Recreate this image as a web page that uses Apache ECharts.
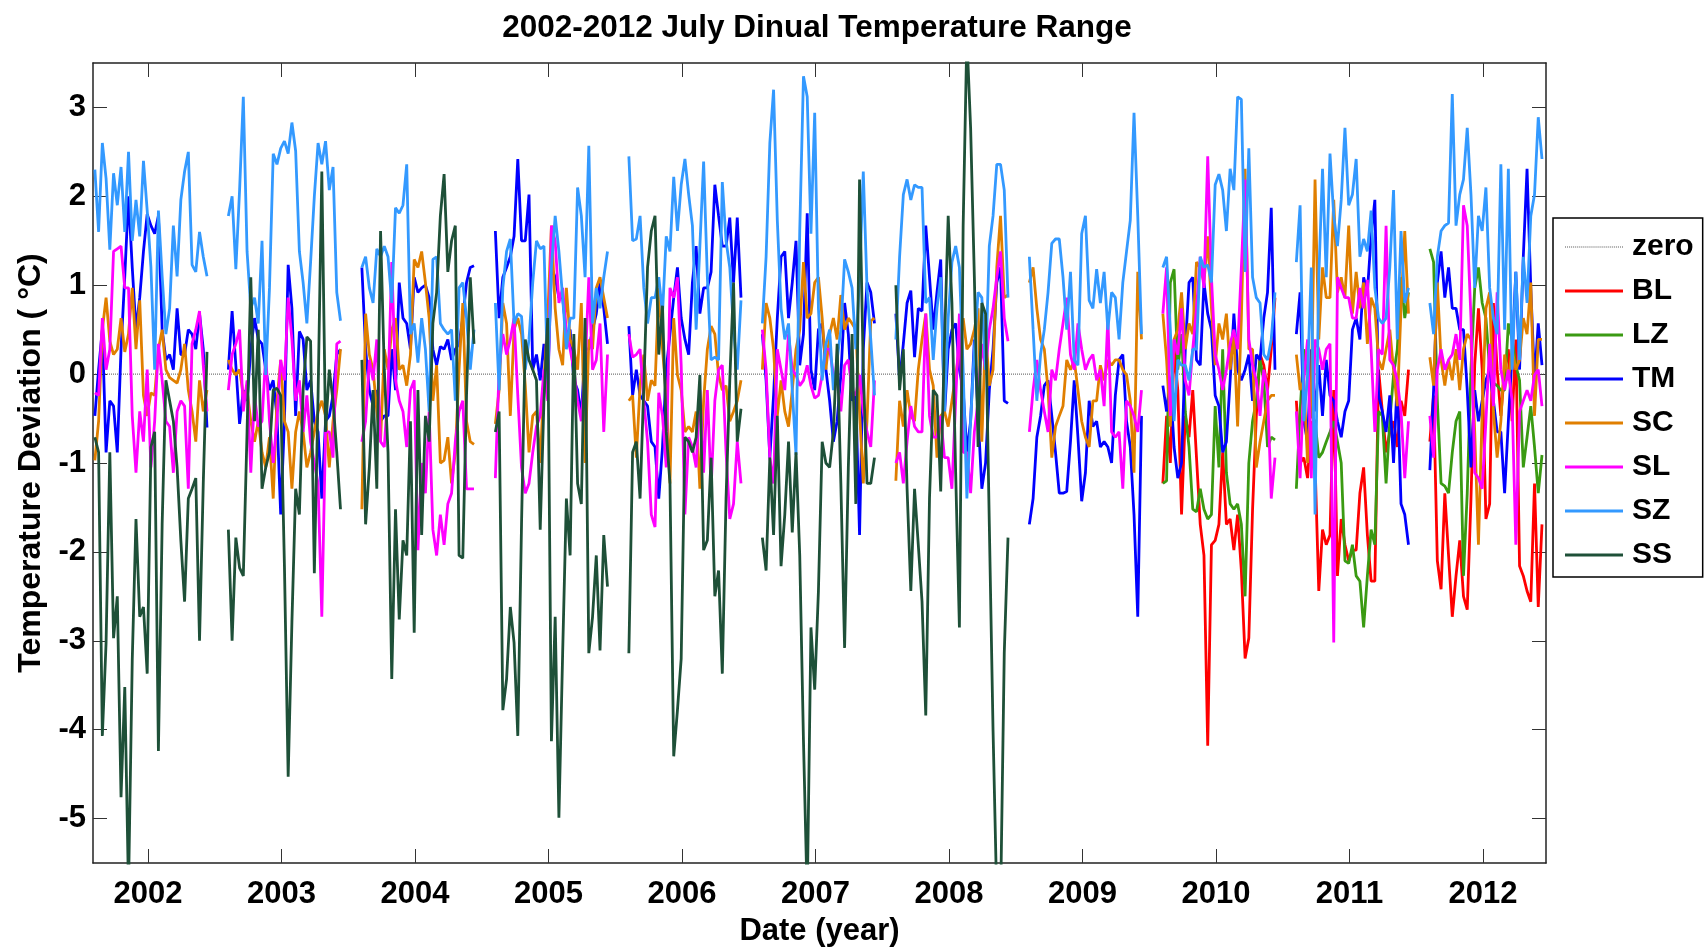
<!DOCTYPE html>
<html>
<head>
<meta charset="utf-8">
<title>2002-2012 July Dinual Temperature Range</title>
<script src="https://cdn.jsdelivr.net/npm/echarts@6/dist/echarts.min.js"></script>
<style>
  html, body { margin: 0; padding: 0; background: #fff; }
  #container { width: 1706px; height: 952px; }
</style>
</head>
<body>
<div id="container"></div>
<script>
const years = [2002, 2003, 2004, 2005, 2006, 2007, 2008, 2009, 2010, 2011, 2012];
const yTicks = [-5, -4, -3, -2, -1, 0, 1, 2, 3];
const lateYears = [2010, 2011, 2012];
const ssYears = [2002, 2003, 2004, 2005, 2006, 2007, 2008];

// July, 31 days per year, plotted inside each year slot
const JULY_START = -0.398;
const DAY_STEP = 0.028;

// SZ, one row per year 2002..2012
const SZ = [
  [2.3,1.6,2.6,2.2,1.4,2.26,1.9,2.33,1.6,2.5,1.5,1.96,1.55,2.4,1.84,1.2,0.05,1.84,1.1,0.45,0.74,1.67,1.1,1.96,2.28,2.5,1.23,1.15,1.6,1.32,1.1],
  [1.78,2.0,1.18,2.07,3.12,1.38,0.74,0.86,0.57,1.5,-0.01,0.97,2.48,2.36,2.54,2.62,2.48,2.83,2.51,1.38,1.03,0.57,1.26,2.0,2.6,2.36,2.62,2.07,2.33,0.92,0.6],
  [1.2,1.32,0.97,0.8,1.41,1.32,1.44,1.32,0.8,1.87,1.81,1.9,2.36,0.45,0.57,0.13,0.63,0.28,-0.42,1.29,1.32,0.57,0.5,0.45,0.5,-0.3,0.97,1.03,0.63,0.05,0.5],
  [0.8,-0.18,0.97,1.38,1.52,0.57,0.68,0.65,0.05,0.39,1.03,1.5,1.41,1.44,-0.07,1.2,1.78,1.38,0.86,0.28,0.63,0.63,2.1,1.78,1.09,2.57,0.57,0.97,0.74,1.09,1.38],
  [2.45,1.5,1.52,1.78,0.97,0.57,0.86,0.86,1.09,0.68,1.55,1.38,2.22,1.61,2.13,2.42,2.02,1.67,0.5,1.44,2.39,1.09,0.16,0.19,0.16,2.16,1.5,1.2,0.5,0.05,0.83],
  [0.57,1.32,2.6,3.2,1.73,0.74,0.39,0.57,-0.18,-0.91,1.61,3.35,3.12,1.58,2.94,0.74,-0.07,0.34,0.5,-0.18,0.16,0.5,1.29,1.15,0.97,0.28,1.09,2.28,0.97,0.39,-0.24],
  [0.39,1.32,2.02,2.19,1.96,2.13,2.1,2.1,0.8,0.86,0.16,0.74,1.09,-0.42,0.63,1.26,1.44,1.2,0.05,-1.4,-0.53,0.28,0.92,0.86,0.05,1.44,1.78,2.36,2.36,2.07,0.86],
  [1.32,0.5,-0.3,0.22,0.5,0.92,1.47,1.52,1.52,1.09,0.5,1.15,0.16,0.1,1.58,1.78,0.83,0.74,1.18,0.8,1.15,0.5,0.92,0.86,0.39,1.03,1.38,1.73,2.94,1.78,0.45],
  [1.2,1.32,0.5,-0.53,0.16,0.1,0.1,-0.07,0.28,0.28,1.32,1.2,1.23,1.03,2.13,2.25,2.07,1.61,2.31,2.07,3.12,3.09,1.15,2.54,1.09,0.86,0.8,0.22,0.16,0.39,0.92],
  [1.26,1.9,-0.53,-0.01,1.2,-1.58,1.09,2.31,1.09,2.48,1.78,1.44,1.96,2.77,1.9,2.02,2.42,1.32,1.52,1.38,1.84,0.97,0.63,0.57,0.63,1.2,2.07,0.39,1.61,0.8,0.97],
  [0.8,0.45,1.32,1.61,1.67,1.7,3.15,1.67,2.02,2.19,2.77,2.02,0.97,1.78,1.61,2.1,0.97,0.63,0.45,2.36,0.5,2.31,0.05,1.15,0.16,1.32,0.8,1.78,2.02,2.89,2.42],
];

const TM = [
  [-0.47,0.05,0.5,-0.88,-0.3,-0.36,-0.88,0.28,1.1,2.0,1.2,0.5,0.86,1.38,1.8,1.67,1.58,1.78,0.5,0.16,0.22,0.05,0.74,0.22,0.22,0.5,0.45,0.28,0.68,0.28,-0.6],
  [0.05,0.71,0.1,-0.56,-0.18,-0.3,0.28,0.63,0.39,0.34,0.05,-0.18,-0.07,-0.47,-1.58,-0.53,1.23,0.74,-0.47,0.48,0.39,-0.18,-0.07,-0.53,-0.65,-1.4,-0.53,-0.47,-0.24,0.22,0.28],
  [1.2,0.28,-0.18,-0.36,-0.18,-0.53,-0.47,-0.47,0.28,-0.18,1.03,0.63,0.57,0.28,1.09,0.92,0.97,1.0,0.86,0.28,0.1,0.31,0.28,0.39,0.16,0.28,0.34,0.63,1.03,1.2,1.22],
  [1.61,0.63,1.09,1.2,1.32,1.55,2.42,1.5,1.5,2.02,0.05,0.22,-0.07,0.34,-0.18,1.2,1.09,0.86,0.86,0.45,0.5,-0.07,-0.18,-0.47,0.28,0.28,0.5,0.68,1.03,0.74,0.34],
  [0.54,-0.24,0.05,-0.24,-0.3,-0.36,-0.76,-0.82,-1.4,-0.82,0.05,0.45,0.86,1.2,0.63,0.39,0.22,1.03,1.44,0.68,0.97,0.97,1.15,2.13,1.78,1.44,1.44,1.76,1.03,1.76,0.86],
  [0.45,-0.07,-0.94,-0.24,0.63,1.32,1.38,0.63,1.03,1.5,0.1,0.45,1.81,0.05,-0.18,0.5,0.57,0.05,-0.3,-0.76,-0.53,-0.01,0.8,0.45,-0.3,-0.24,-1.81,0.28,1.03,0.92,0.57],
  [0.68,-0.07,0.34,0.8,0.94,0.19,0.74,0.71,1.67,1.09,0.5,0.92,1.29,-0.47,0.28,0.5,0.57,0.05,-0.18,-0.88,-0.53,0.39,-0.47,-1.29,-1.0,-0.18,0.28,1.03,1.2,-0.3,-0.33],
  [-1.69,-1.4,-0.71,-0.47,-0.13,-0.07,-0.47,-0.88,-1.34,-1.34,-1.32,-0.76,-0.07,-0.71,-1.43,-1.11,-0.3,-0.59,-0.53,-0.82,-0.76,-0.82,-1.0,-0.24,0.16,0.22,-0.53,-0.82,-1.58,-2.73,-0.47],
  [-0.13,-0.42,-0.07,-0.82,-1.17,-1.0,0.28,1.03,1.09,0.16,0.1,1.03,0.68,0.5,-0.24,-0.36,-0.88,-0.76,-0.07,0.68,0.05,-0.07,0.05,0.22,-0.3,0.22,0.16,0.63,0.92,1.87,0.05],
  [0.45,0.92,-0.53,-0.76,0.28,-0.42,0.1,-0.47,0.16,-0.24,-0.3,-0.53,-0.71,-0.42,-0.3,0.5,0.63,0.39,1.09,0.92,1.55,1.96,-0.24,-0.42,-0.65,-0.24,-1.0,-0.07,-1.46,-1.58,-1.92],
  [-1.08,-0.18,1.03,1.38,0.86,1.2,0.74,0.74,0.5,0.5,-0.18,-1.05,-0.18,-0.53,-0.3,-0.07,0.05,-0.3,-0.65,-0.65,-1.34,-0.53,0.22,1.15,0.05,1.32,2.31,0.97,-0.07,0.57,0.1],
];

const SC = [
  [-0.97,-0.53,0.5,0.86,0.37,0.22,0.28,0.63,0.25,0.45,0.97,0.28,0.83,-0.24,-0.47,-0.21,-0.24,0.28,0.5,0.05,-0.04,-0.07,-0.1,0.05,0.34,-0.18,-0.42,-0.76,-0.07,-0.42,-0.18],
  [0.16,0.05,-0.01,0.05,-0.24,-0.18,-0.53,-0.76,-0.53,-0.88,-1.05,-0.71,-1.4,-0.3,0.16,-0.53,-0.65,-1.29,-0.65,-0.42,-0.65,-1.05,-0.88,-0.65,-0.42,-0.3,-0.47,-1.05,-0.53,-0.18,0.28],
  [-1.52,0.68,0.22,0.05,-0.42,-0.76,0.28,0.05,0.5,0.63,0.05,0.1,-0.13,0.22,1.29,1.2,1.38,1.03,0.63,-0.3,0.1,-1.0,-0.97,-0.71,-1.23,-0.88,0.05,0.8,-0.53,-0.76,-0.79],
  [-0.56,-0.18,0.8,0.57,-0.47,0.5,0.63,0.45,-0.13,-0.88,-0.47,-0.42,-1.0,-0.07,0.63,1.67,0.74,0.28,0.1,0.97,0.39,0.28,0.05,0.8,-1.0,0.39,0.28,0.97,1.09,0.86,0.63],
  [-0.3,-0.24,-0.94,-0.13,0.22,-0.3,-0.07,-0.13,0.97,0.28,-0.24,-1.23,0.63,-0.01,-0.18,-0.65,-0.59,-0.65,-0.42,-1.29,-0.3,0.28,0.54,0.45,-0.01,-0.18,-0.13,-0.53,-0.42,-0.3,-0.07],
  [0.05,0.8,0.63,0.28,-0.47,-0.07,-0.42,-0.59,-0.18,0.28,0.5,1.26,0.63,0.68,1.03,1.09,0.63,0.05,0.45,0.63,0.39,0.89,0.5,0.63,0.57,0.5,-0.42,-1.23,-0.53,0.6,0.63],
  [-1.2,-0.3,-0.59,-0.18,-0.47,-0.53,0.05,0.39,0.68,0.05,-0.13,-0.94,-0.47,-0.42,-0.59,-0.3,-0.01,0.28,0.63,0.28,0.34,0.5,0.74,-0.76,0.5,-0.13,0.05,1.2,1.78,0.86,0.89],
  [1.03,1.2,0.74,0.39,0.28,-0.18,-0.94,-0.59,-0.47,-0.36,0.16,0.05,0.16,-0.18,-0.53,-0.71,-0.82,-0.3,-0.3,0.1,-0.07,0.16,0.1,0.16,0.16,0.05,-0.01,-0.3,-1.11,1.15,0.39],
  [0.68,0.16,-0.59,0.39,0.5,0.92,0.28,0.57,0.45,1.26,1.2,1.03,1.55,0.74,0.1,0.57,0.39,0.68,0.05,0.45,-0.59,0.63,2.31,0.28,0.28,-1.05,-0.76,-0.53,-0.3,-0.24,-0.24],
  [0.22,-0.18,-0.07,-1.0,-0.18,2.19,0.39,1.2,0.86,0.86,1.96,0.92,1.09,0.86,1.67,0.68,1.15,0.74,1.03,0.34,0.86,0.74,0.16,0.05,0.28,0.5,0.05,-0.36,0.74,1.61,0.68],
  [0.19,-0.13,1.03,0.16,-0.13,0.16,-0.07,0.28,-0.18,0.28,0.45,0.39,-0.65,-1.92,-0.42,0.74,0.92,-0.42,-0.94,-0.53,0.22,-0.07,0.28,0.05,0.16,0.63,0.45,1.03,-0.47,0.39,0.39],
];

const SL = [
  [-0.21,-0.24,0.63,0.05,0.28,1.38,1.41,1.44,0.97,0.97,-0.47,-1.11,-0.42,-0.76,0.05,-1.05,-0.53,0.34,-0.07,-0.53,-0.59,-1.11,-0.42,-0.3,-0.36,-1.29,0.34,0.5,0.71,0.1,-0.42],
  [-0.18,0.22,0.34,0.5,-0.42,-0.07,-1.11,-0.24,-0.59,-0.53,0.22,-0.53,-1.0,-0.53,0.16,-0.07,0.86,0.39,-0.3,-0.07,-0.65,-0.24,-0.76,-1.0,-1.23,-2.73,-0.65,-0.65,-0.94,0.34,0.37],
  [-0.76,-0.53,0.16,-0.07,0.39,-0.76,-0.82,-0.18,1.26,-0.07,-0.3,-0.42,-0.82,-0.18,-0.07,-1.98,-1.0,-1.34,-0.42,-1.75,-2.04,-1.58,-1.92,-1.46,-1.34,-0.76,-0.42,-0.3,-1.29,-1.29,-1.29],
  [-1.17,0.05,0.45,0.22,0.39,0.63,-0.24,-1.05,-1.34,-1.23,-0.88,-0.59,-0.47,0.05,-0.3,1.67,1.5,0.8,0.97,0.45,0.28,0.05,-0.3,-0.53,0.05,1.09,0.05,0.16,0.57,-0.65,0.22],
  [0.45,0.19,0.22,0.28,-0.3,-0.76,-1.58,-1.72,-0.21,-0.47,-1.05,0.97,0.86,1.09,0.1,-1.58,-0.71,-0.82,-1.05,-0.18,-1.11,-0.18,-1.29,-0.3,0.05,0.1,-0.88,-1.63,-1.46,-0.76,-1.23],
  [0.5,0.05,-0.94,-1.23,0.28,0.05,-0.18,0.45,0.05,-0.01,-0.13,-0.07,0.1,-0.13,-0.27,-0.24,-0.01,0.28,0.28,-0.01,-0.07,-0.42,0.1,0.16,-0.18,-0.24,-0.01,-0.42,-0.65,-0.82,-0.07],
  [-1.0,-0.88,-1.23,-0.76,-0.36,-0.59,-0.65,-0.65,0.68,-0.47,-0.71,-0.71,-0.47,-0.94,-0.94,-1.29,-0.3,0.68,-0.88,-0.88,-1.34,-0.65,-0.3,0.34,0.05,0.5,0.74,1.09,1.38,0.63,0.37],
  [-0.65,-0.18,0.16,-0.18,-0.42,-0.65,0.05,-0.07,0.28,0.57,0.86,0.22,0.05,0.57,0.28,0.05,0.16,0.22,-0.07,0.05,-0.36,0.63,-0.65,-0.71,-0.65,-1.29,-0.3,-0.36,-0.47,-0.65,-0.18],
  [0.68,1.2,-0.47,0.39,0.22,0.74,-0.07,-0.24,0.28,0.74,1.32,0.97,2.45,1.09,0.22,0.05,-0.18,0.05,0.34,0.5,0.28,1.2,2.19,0.39,0.1,-0.07,-0.47,0.05,-0.18,-1.4,-0.94],
  [-0.42,-1.17,-0.07,0.39,-1.17,0.39,0.28,0.05,0.28,0.34,-3.02,1.09,0.97,0.86,0.86,0.63,0.63,0.97,0.74,1.06,0.28,-0.65,0.28,0.22,1.67,0.16,0.1,-0.07,-0.42,-1.17,-0.53],
  [-0.47,-0.94,0.05,0.28,0.05,0.16,0.22,0.45,0.16,1.9,1.67,0.63,-1.11,-1.17,-1.29,-0.53,0.34,-0.36,0.92,0.05,-0.18,0.05,-0.3,-1.92,-0.42,-0.3,-0.18,-0.3,-0.01,0.05,-0.36],
];

// SS only 2002..2008
const SS = [
  [-0.71,-0.88,-4.07,-3.02,-0.88,-2.97,-2.5,-4.76,-3.52,-5.8,-3.22,-1.63,-2.73,-2.62,-3.37,-0.82,-0.65,-4.24,-1.69,-0.07,-0.3,-0.53,-1.05,-1.87,-2.56,-1.4,-1.29,-1.17,-3.0,-1.23,0.25],
  [-1.75,-3.0,-1.84,-2.18,-2.27,-0.65,1.09,-0.53,0.5,-1.29,-1.05,-0.88,-0.18,-0.16,-0.24,-2.16,-4.53,-2.79,-1.29,-1.58,-0.18,0.42,0.37,-2.24,-0.24,2.28,-0.65,0.05,-0.3,-0.88,-1.52],
  [0.16,-1.69,-1.05,-0.18,-1.29,1.61,0.05,-0.88,-3.43,-1.52,-2.76,-1.87,-2.04,-0.53,-2.91,-0.18,-1.81,-0.47,-0.76,0.57,0.92,1.78,2.25,1.15,1.5,1.67,-2.04,-2.07,-0.24,1.09,0.34],
  [-0.65,-0.42,-3.78,-3.43,-2.62,-3.02,-4.07,-1.69,0.39,0.16,0.05,-0.07,-1.75,-0.3,0.63,-4.13,-2.73,-4.99,-3.14,-1.4,-2.04,0.45,-1.23,-1.46,0.63,-3.14,-2.73,-2.04,-3.11,-1.81,-2.39],
  [-3.14,-0.88,-0.76,-1.4,-0.13,1.2,1.61,1.78,0.22,0.77,-0.65,-1.23,-4.3,-3.78,-3.2,-0.71,-0.76,-0.88,-0.71,-0.01,-1.98,-1.87,-0.94,-2.5,-2.21,-3.37,-1.4,-0.07,1.03,-0.76,-0.39],
  [-1.84,-2.21,-0.94,-1.81,-0.47,-2.16,-1.58,-0.76,-1.78,-0.88,-2.04,-4.13,-5.9,-2.85,-3.55,-2.44,-0.76,-1.0,-1.05,-0.65,0.34,-1.23,-3.08,-1.05,0.45,-1.46,2.19,0.05,-1.23,-1.23,-0.94],
  [1.0,-0.18,0.28,-1.29,-2.44,-1.29,-1.92,-2.56,-3.84,-1.4,-0.18,-0.24,-1.32,0.34,1.78,0.8,-1.11,-2.85,1.67,3.8,2.77,1.09,-0.82,0.8,0.68,-1.69,-4.01,-5.9,-6.0,-3.14,-1.84],
];

// BL and LZ only 2010..2012
const BL = [
  [-1.23,-0.47,-1.0,0.28,-0.18,-1.58,-0.47,-0.71,-0.18,-0.94,-1.69,-2.04,-4.18,-1.92,-1.87,-1.69,-0.88,-1.69,-1.63,-1.98,-1.58,-2.21,-3.2,-2.97,-1.52,-0.47,0.22,0.1,-0.18,0.28,0.86],
  [-0.3,-1.0,-0.94,-1.17,-0.53,-1.0,-2.44,-1.75,-1.92,-1.81,-0.18,-2.27,-1.63,-1.92,-2.1,-1.98,-1.98,-1.34,-1.05,-1.81,-2.33,-2.33,0.05,-0.42,-0.88,-0.65,-0.53,-0.82,-0.3,-0.47,0.05],
  [-0.76,-0.24,-2.1,-2.42,-1.34,-2.04,-2.73,-2.27,-1.87,-2.5,-2.65,-1.4,0.1,0.74,0.05,-1.63,-1.46,0.8,0.05,-0.47,0.05,0.28,-0.53,0.39,-2.16,-2.27,-2.44,-2.56,-1.23,-2.62,-1.69],
];

const LZ = [
  [-1.23,-1.2,1.03,1.18,0.05,0.45,-0.42,-0.82,-1.52,-1.55,-1.29,-1.52,-1.63,-1.58,-0.36,-1.05,0.28,-1.11,-1.46,-1.52,-1.46,-1.69,-2.5,-1.0,-0.53,-0.3,0.16,-0.07,-0.82,-0.71,-0.74],
  [-1.29,-0.42,0.28,0.05,-0.47,-0.53,-0.94,-0.88,-0.76,-0.65,-0.53,-0.76,-1.0,-2.1,-2.13,-1.92,-2.27,-2.33,-2.85,-2.27,-1.75,-1.92,-0.42,-0.47,-1.23,-0.53,-0.01,0.28,1.09,0.63,0.92],
  [1.41,1.26,-0.3,-1.23,-1.26,-1.34,-0.88,-0.53,-0.42,-2.27,-1.34,0.05,0.97,1.2,0.8,0.63,0.05,-0.1,-0.13,-0.18,-0.18,0.57,0.39,0.1,-0.07,-1.05,-0.71,-0.36,-0.82,-1.34,-0.91],
];

const X_MIN = 2001.588;
const X_MAX = 2012.472;
const FONT = 'Liberation Sans, Arial, sans-serif';

// dotted icon for the zero entry in the legend
let dots = '';
for (let i = 0; i < 58; i += 2) dots += 'M' + i + ',0h1v1h-1z';
const DOTTED_ICON = 'path://' + dots;

function buildLine(yearList, rows) {
  const out = [];
  yearList.forEach((yr, k) => {
    rows[k].forEach((v, d) => out.push([yr + JULY_START + d * DAY_STEP, v]));
    out.push([yr + 0.5, '-']); // break between Julys
  });
  return out;
}

function lineSeries(name, color, data) {
  return {
    name: name,
    type: 'line',
    data: data,
    symbol: 'none',
    color: color,
    lineStyle: { color: color, width: 2.8 },
    clip: true,
    animation: false,
  };
}

let chart = echarts.init(document.getElementById('container'));

const boxLine = { show: true, onZero: false, lineStyle: { color: '#222', width: 1.5 } };
const tickStyle = { color: '#333', width: 1 };

let option = {
  backgroundColor: '#fff',
  animation: false,
  title: {
    text: '2002-2012 July Dinual Temperature Range',
    left: 812,
    top: 7,
    textAlign: 'center',
    textStyle: { fontSize: 31.5, fontWeight: 'bold', color: '#000', fontFamily: FONT },
  },
  grid: { left: 93, right: 160, top: 63, bottom: 83 },
  legend: {
    orient: 'vertical',
    left: 1553,
    top: 218,
    data: [
      { name: 'zero', icon: DOTTED_ICON },
      'BL', 'LZ', 'TM', 'SC', 'SL', 'SZ', 'SS',
    ],
    icon: 'rect',
    itemWidth: 58,
    itemHeight: 3,
    itemGap: 10,
    padding: [12, 9, 5, 12],
    borderColor: '#000',
    borderWidth: 1.5,
    borderRadius: 0,
    backgroundColor: '#fff',
    textStyle: {
      fontSize: 30,
      fontWeight: 'bold',
      color: '#000',
      lineHeight: 34,
      fontFamily: FONT,
      padding: [0, 0, 0, 4],
    },
  },
  xAxis: [
    {
      type: 'value',
      min: X_MIN,
      max: X_MAX,
      position: 'bottom',
      axisLine: boxLine,
      axisTick: { show: true, inside: true, length: 14, customValues: years, lineStyle: tickStyle },
      axisLabel: {
        customValues: years,
        formatter: (v) => String(v),
        margin: 16,
        fontSize: 31,
        fontWeight: 'bold',
        color: '#000',
        fontFamily: FONT,
      },
      splitLine: { show: false },
      name: 'Date (year)',
      nameLocation: 'middle',
      nameGap: 53,
      nameTextStyle: { fontSize: 31, fontWeight: 'bold', color: '#000', fontFamily: FONT },
    },
    {
      type: 'value',
      min: X_MIN,
      max: X_MAX,
      position: 'top',
      axisLine: boxLine,
      axisTick: { show: true, inside: true, length: 14, customValues: years, lineStyle: tickStyle },
      axisLabel: { show: false },
      splitLine: { show: false },
    },
  ],
  yAxis: [
    {
      type: 'value',
      min: -5.5,
      max: 3.5,
      position: 'left',
      axisLine: boxLine,
      axisTick: { show: true, inside: true, length: 14, customValues: yTicks, lineStyle: tickStyle },
      axisLabel: {
        customValues: yTicks,
        margin: 7,
        fontSize: 31,
        fontWeight: 'bold',
        color: '#000',
        fontFamily: FONT,
      },
      splitLine: { show: false },
      name: 'Temperature Deviation ( °C)',
      nameLocation: 'middle',
      nameGap: 44,
      nameTextStyle: { fontSize: 32, fontWeight: 'bold', color: '#000', fontFamily: FONT },
    },
    {
      type: 'value',
      min: -5.5,
      max: 3.5,
      position: 'right',
      axisLine: boxLine,
      axisTick: { show: true, inside: true, length: 14, customValues: yTicks, lineStyle: tickStyle },
      axisLabel: { show: false },
      splitLine: { show: false },
    },
  ],
  series: [
    {
      name: 'zero',
      type: 'line',
      data: [[X_MIN, 0], [X_MAX, 0]],
      symbol: 'none',
      color: '#555',
      lineStyle: { color: '#555', width: 1, type: 'dotted' },
      animation: false,
    },
    lineSeries('BL', '#ff0000', buildLine(lateYears, BL)),
    lineSeries('LZ', '#3a9a12', buildLine(lateYears, LZ)),
    lineSeries('TM', '#0000ff', buildLine(years, TM)),
    lineSeries('SC', '#e07f00', buildLine(years, SC)),
    lineSeries('SL', '#ff00ff', buildLine(years, SL)),
    lineSeries('SZ', '#3399ff', buildLine(years, SZ)),
    lineSeries('SS', '#1e5038', buildLine(ssYears, SS)),
  ],
};

if (option && typeof option === 'object') {
  chart.setOption(option);
}
</script>
</body>
</html>
